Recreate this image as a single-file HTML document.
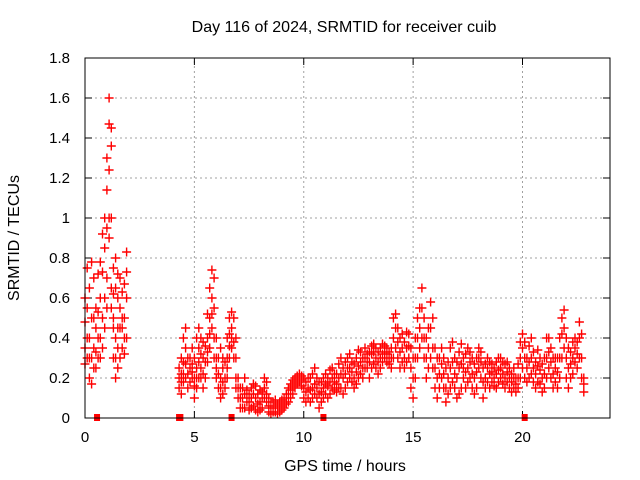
<!DOCTYPE html>
<html><head><meta charset="utf-8"><style>
html,body{margin:0;padding:0;background:#fff;}
svg{display:block;font-family:"Liberation Sans",sans-serif;}
</style></head><body>
<svg id="chart" width="640" height="480" xmlns="http://www.w3.org/2000/svg">
<rect width="640" height="480" fill="#fff"/>
<text x="344" y="32" text-anchor="middle" font-size="16" fill="#000">Day 116 of 2024, SRMTID for receiver cuib</text>
<text x="345" y="471" text-anchor="middle" font-size="16" fill="#000">GPS time / hours</text>
<text transform="translate(19,238) rotate(-90)" text-anchor="middle" font-size="16" fill="#000">SRMTID / TECUs</text>
<g id="grid"></g>
<g id="ticks"></g>
<g id="marks"></g>
<rect x="85" y="58" width="525" height="360" fill="none" stroke="#000" stroke-width="1"/>
</svg>
<script>
const xTicks = [0, 5, 10, 15, 20];
const yTicks = [0, 0.2, 0.4, 0.6, 0.8, 1, 1.2, 1.4, 1.6, 1.8];
const yTickLabels = ["0", "0.2", "0.4", "0.6", "0.8", "1", "1.2", "1.4", "1.6", "1.8"];
const zeroFlags = [0.55, 4.3, 4.36, 6.7, 10.9, 20.1];
const times = [0.0,0.1,0.2,0.3,0.4,0.5,0.6,0.7,0.8,0.9,1.0,1.1,1.2,1.3,1.4,1.5,1.6,1.7,1.8,1.9,
4.3,4.4,4.5,4.6,4.7,4.8,4.9,5.0,5.1,5.2,5.3,5.4,5.5,5.6,5.7,5.8,5.9,6.0,6.1,6.2,6.3,6.4,6.5,6.6,6.7,6.8,6.9,
7.0,7.1,7.2,7.3,7.4,7.5,7.6,7.7,7.8,7.9,8.0,8.1,8.2,8.3,8.4,8.5,8.6,8.7,8.8,8.9,9.0,9.1,9.2,9.3,9.4,9.5,9.6,9.7,9.8,9.9,
10.0,10.1,10.2,10.3,10.4,10.5,10.6,10.7,10.8,10.9,11.0,11.1,11.2,11.3,11.4,11.5,11.6,11.7,11.8,11.9,
12.0,12.1,12.2,12.3,12.4,12.5,12.6,12.7,12.8,12.9,13.0,13.1,13.2,13.3,13.4,13.5,13.6,13.7,13.8,13.9,
14.0,14.1,14.2,14.3,14.4,14.5,14.6,14.7,14.8,14.9,15.0,15.1,15.2,15.3,15.4,15.5,15.6,15.7,15.8,15.9,
16.0,16.1,16.2,16.3,16.4,16.5,16.6,16.7,16.8,16.9,17.0,17.1,17.2,17.3,17.4,17.5,17.6,17.7,17.8,17.9,
18.0,18.1,18.2,18.3,18.4,18.5,18.6,18.7,18.8,18.9,19.0,19.1,19.2,19.3,19.4,19.5,19.6,19.7,19.8,19.9,
20.0,20.1,20.2,20.3,20.4,20.5,20.6,20.7,20.8,20.9,21.0,21.1,21.2,21.3,21.4,21.5,21.6,21.7,21.8,21.9,
22.0,22.1,22.2,22.3,22.4,22.5,22.6,22.7,22.8];
const values = [
[.48,.35,.6,.27],[.3,.55,.75,.4],[.2,.4,.65,.3],[.17,.3,.78,.5],[.35,.5,.7,.25],[.25,.45,.55,.33],[.3,.53,.72,.4],[.4,.6,.78,.3],[.5,.73,.92,.35],[.6,.85,1.0,.45],
[.7,1.14,1.3,.95,.55],[.9,1.24,1.47,1.6,1.0],[.55,.65,1.0,1.36,1.45],[.3,.5,.75,.62,.45],[.2,.4,.65,.8,.3],[.25,.45,.6,.72,.35],[.3,.55,.7,.45],[.35,.45,.63,.5],[.32,.5,.67,.4],[.4,.73,.83,.6],
[.15,.2,.25],[.12,.22,.3,.18],[.18,.28,.4,.22],[.2,.35,.45,.27],[.15,.22,.3],[.18,.25,.3],[.2,.27,.35,.23],[.1,.2,.3,.16],[.15,.25,.4,.2],[.2,.35,.45,.28],
[.25,.32,.4,.2],[.15,.3,.38,.22],[.2,.28,.36],[.28,.4,.52,.33],[.35,.5,.65,.42],[.45,.6,.74,.52],[.3,.55,.7,.4],[.2,.3,.4,.25],[.15,.22,.3],[.1,.2,.35,.15],
[.12,.25,.3,.18],[.15,.2,.28],[.2,.3,.4,.25],[.3,.42,.5,.36],[.35,.45,.53,.4],[.3,.38,.5],[.2,.3,.4,.15],
[.1,.15,.2],[.05,.1,.15],[.05,.1,.15],[.05,.12,.2],[.08,.1,.14],[.04,.08,.12],[.05,.1,.15],[.06,.12,.17],[.04,.1,.16],[.03,.07,.12],
[.04,.08,.14],[.05,.1,.13],[.1,.15,.2],[.08,.12,.18],[.03,.06,.1],[.02,.05,.08],[.03,.05,.08],[.03,.06,.09],[.02,.05,.07],[.03,.05,.08],
[.04,.06,.09],[.05,.08,.1],[.07,.1,.12],[.08,.12,.15],[.1,.14,.17],[.12,.16,.19],[.15,.18,.2],[.17,.2,.21],[.18,.2,.22],[.16,.19,.21],
[.1,.15,.2],[.08,.13,.18],[.1,.15,.2],[.08,.14,.2],[.1,.15,.22],[.12,.17,.25],[.1,.15,.2],[.05,.12,.18],[.08,.13,.18],[.1,.15,.2],
[.12,.17,.22],[.1,.16,.2],[.12,.18,.24],[.15,.2,.25],[.14,.18,.22],[.13,.17,.22],[.15,.2,.27],[.15,.22,.3],[.12,.2,.25],[.15,.22,.28],
[.18,.25,.3],[.2,.25,.32],[.18,.23,.28],[.15,.2,.27],[.17,.23,.3],[.2,.26,.34],[.22,.28,.33],[.2,.25,.3],[.25,.3,.35],[.25,.28,.32],
[.2,.28,.33],[.25,.32,.36],[.27,.33,.37],[.25,.3,.35],[.22,.28,.33],[.25,.3,.35],[.28,.32,.37],[.3,.33,.36],[.28,.32,.35],[.27,.3,.33],
[.25,.3,.35],[.3,.4,.5],[.35,.45,.52],[.3,.38,.45],[.25,.33,.4],[.28,.35,.42],[.25,.3,.38],[.28,.35,.43],[.3,.36,.42],[.15,.25,.35],
[.1,.2,.3],[.2,.3,.4],[.3,.4,.5],[.35,.45,.55],[.4,.55,.65],[.3,.4,.5],[.2,.3,.4],[.25,.35,.45],[.3,.45,.58],[.25,.35,.5],
[.15,.25,.35],[.1,.2,.3],[.15,.22,.3],[.2,.27,.35],[.15,.22,.3],[.08,.15,.25],[.12,.2,.28],[.15,.25,.35],[.18,.28,.38],[.15,.22,.3],
[.1,.2,.28],[.12,.25,.33],[.15,.27,.37],[.2,.25,.3],[.15,.23,.32],[.18,.25,.35],[.2,.28,.33],[.15,.22,.3],[.12,.2,.27],[.15,.23,.3],
[.25,.3,.35],[.2,.28,.33],[.1,.18,.25],[.15,.2,.27],[.18,.25,.3],[.15,.22,.28],[.18,.23,.27],[.16,.2,.25],[.15,.22,.28],[.18,.24,.3],
[.2,.25,.3],[.17,.22,.28],[.15,.2,.27],[.18,.23,.28],[.15,.2,.25],[.13,.18,.22],[.15,.2,.25],[.13,.17,.2],[.15,.2,.27],[.2,.3,.38],
[.25,.35,.42],[.2,.3,.38],[.18,.25,.3],[.2,.28,.36],[.22,.3,.4],[.18,.25,.33],[.15,.22,.28],[.18,.26,.34],[.17,.24,.3],[.13,.2,.27],
[.15,.22,.3],[.2,.3,.4],[.25,.33,.4],[.2,.28,.35],[.15,.22,.3],[.18,.25,.3],[.15,.23,.3],[.2,.3,.4],[.3,.42,.5],[.35,.45,.54],
[.2,.3,.4],[.15,.25,.35],[.2,.27,.33],[.22,.3,.38],[.28,.35,.4],[.25,.32,.38],[.3,.4,.48],[.2,.3,.42],[.13,.17,.2]];

const X0 = 85, X1 = 610, Y0 = 418, Y1 = 58;
function xs(t){ return X0 + t / 24 * (X1 - X0); }
function ys(v){ return Y0 - v / 1.8 * (Y0 - Y1); }
const NS = "http://www.w3.org/2000/svg";
const grid = document.getElementById('grid');
const ticks = document.getElementById('ticks');
const marks = document.getElementById('marks');
function mk(tag, attrs, parent){
  const e = document.createElementNS(NS, tag);
  for (const k in attrs) e.setAttribute(k, attrs[k]);
  parent.appendChild(e); return e;
}
yTicks.forEach((v, i) => {
  const y = ys(v);
  if (i > 0 && i < yTicks.length - 1) {
    const g = mk('line', {x1: X0, x2: X1, y1: y, y2: y, stroke: '#a0a0a0', 'stroke-dasharray': '2,3'}, grid);
    
    
  }
  const t1 = mk('line', {x1: X0, x2: X0 + 7, y1: y, y2: y, stroke: '#000'}, ticks);
  
  
  const t2 = mk('line', {x1: X1, x2: X1 - 7, y1: y, y2: y, stroke: '#000'}, ticks);
  
  
  const lb = mk('text', {x: X0 - 15, y: y + 5, 'text-anchor': 'end', 'font-size': 15}, ticks);
  lb.textContent = yTickLabels[i];
  
  
});
xTicks.forEach(t => {
  const x = xs(t);
  if (t > 0) {
    const g = mk('line', {x1: x, x2: x, y1: Y0, y2: Y1, stroke: '#a0a0a0', 'stroke-dasharray': '2,3'}, grid);
    
    
  }
  const t1 = mk('line', {x1: x, x2: x, y1: Y0, y2: Y0 - 7, stroke: '#000'}, ticks);
  
  
  const t2 = mk('line', {x1: x, x2: x, y1: Y1, y2: Y1 + 7, stroke: '#000'}, ticks);
  
  
  const lb = mk('text', {x: x, y: Y0 + 24, 'text-anchor': 'middle', 'font-size': 15}, ticks);
  lb.textContent = String(t);
  
  
});
let d = '';
times.forEach((t, i) => {
  const x = xs(t);
  values[i].forEach(v => {
    const y = ys(v);
    d += `M${(x-4.5).toFixed(1)},${y.toFixed(1)}h9M${x.toFixed(1)},${(y-4.5).toFixed(1)}v9`;
  });
});
const p = mk('path', {d: d, stroke: '#ff0000', 'stroke-width': 1.4, fill: 'none'}, marks);


zeroFlags.forEach(t => {
  const r = mk('rect', {x: xs(t) - 3, y: Y0 - 4, width: 6, height: 7, fill: '#ff0000'}, marks);
  
  
});
</script>
</body></html>
